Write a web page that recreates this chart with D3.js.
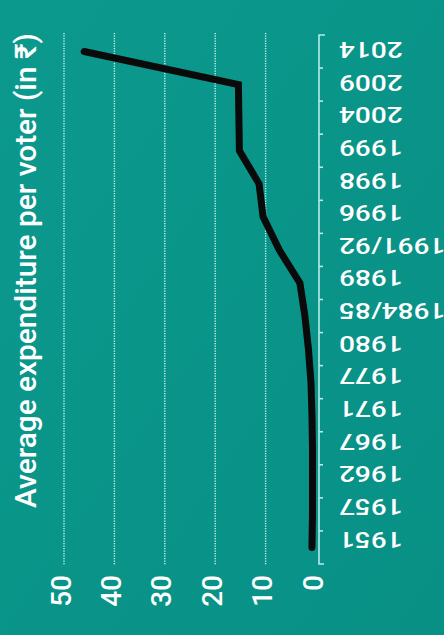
<!DOCTYPE html>
<html>
<head>
<meta charset="utf-8">
<script src="https://cdn.jsdelivr.net/npm/d3@7/dist/d3.min.js"></script>
<style>
  html, body { margin: 0; padding: 0; background: #0b968a; }
  svg { display: block; }
  text { font-family: Roboto, "Liberation Sans", Arial, sans-serif; fill: #ffffff; font-weight: 500; }
</style>
</head>
<body>
<svg id="chart" width="444" height="635"></svg>
<script>
// Lok Sabha elections, average expenditure per voter (₹)
const years = ["1951", "1957", "1962", "1967", "1971", "1977", "1980", "1984/85",
               "1989", "1991/92", "1996", "1998", "1999", "2004", "2009", "2014"];
const perVoter = [0.8, 0.7, 0.7, 0.7, 0.8, 1.0, 1.5, 2.2,
                  3.2, 7.3, 10.5, 11.3, 15.2, 15.3, 15.4, 46];
const valueTicks = [0, 10, 20, 30, 40, 50];
const gridTicks = [10, 20, 30, 40, 50];
const titleText = "Average expenditure per voter (in ₹)";

const svg = d3.select("#chart");
const W = 444, H = 635;

// background
const defs = svg.append("defs");
const bg = defs.append("linearGradient").attr("id", "bg")
  .attr("x1", 0).attr("y1", 0).attr("x2", 1).attr("y2", 1);
bg.append("stop").attr("offset", 0).attr("stop-color", "#0c998d");
bg.append("stop").attr("offset", 1).attr("stop-color", "#089085");
svg.append("rect").attr("width", W).attr("height", H).attr("fill", "url(#bg)");

// years run bottom (oldest) to top, values run right (0) to left
const y = d3.scaleBand().domain(years).range([564, 35]);
const yLabel = d3.scalePoint().domain(years).range([539, 49.5]);
const x = d3.scaleLinear().domain([0, 50]).range([316, 64]);
const bw = y.bandwidth();
const yc = d => y(d) + bw / 2;

// dotted value gridlines
svg.append("g").selectAll("line").data(gridTicks).join("line")
  .attr("x1", d => x(d)).attr("x2", d => x(d))
  .attr("y1", 33).attr("y2", 565)
  .attr("stroke", "#c9f1ec").attr("stroke-width", 1.4)
  .attr("stroke-dasharray", "1.2,1.3");

// value tick labels
svg.append("g").selectAll("text").data(valueTicks).join("text")
  .attr("transform", d => `translate(${x(d) - 3},575) rotate(-90)`)
  .attr("text-anchor", "end")
  .attr("dominant-baseline", "central")
  .attr("font-size", 28)
  .text(d => d);

// year axis: bracket-shaped spine with ticks between bands
const axisX = 319;
const axisG = svg.append("g").attr("stroke", "#b5ece6").attr("stroke-width", 1.6).attr("fill", "none");
const [r0, r1] = y.range();
axisG.append("path")
  .attr("d", `M${axisX + 6},${r1} H${axisX} V${r0} H${axisX + 5}`);
axisG.selectAll("line").data(years.slice(0, -1)).join("line")
  .attr("x1", axisX).attr("x2", axisX + 4)
  .attr("y1", d => y(d)).attr("y2", d => y(d));

// year labels (upside down)
svg.append("g").selectAll("text").data(years).join("text")
  .attr("transform", d => `translate(339,${yLabel(d)}) rotate(180) scale(1,0.79)`)
  .attr("text-anchor", "end")
  .attr("dominant-baseline", "central")
  .attr("font-size", 28)
  .text(d => d);

// expenditure line
const line = d3.line().x((d, i) => x(perVoter[i])).y(d => yc(d));
svg.append("path")
  .datum(years)
  .attr("d", line)
  .attr("fill", "none")
  .attr("stroke", "#0a0a0a")
  .attr("stroke-width", 7)
  .attr("stroke-linecap", "round")
  .attr("stroke-linejoin", "miter");

// value axis title, sized to span the plot height
const title = svg.append("text")
  .attr("transform", "translate(25,270.5) rotate(-90)")
  .attr("text-anchor", "middle")
  .attr("dominant-baseline", "central")
  .attr("font-size", 100)
  .text(titleText);
const len = title.node().getComputedTextLength();
title.attr("font-size", 100 * 475 / len);
</script>
</body>
</html>
